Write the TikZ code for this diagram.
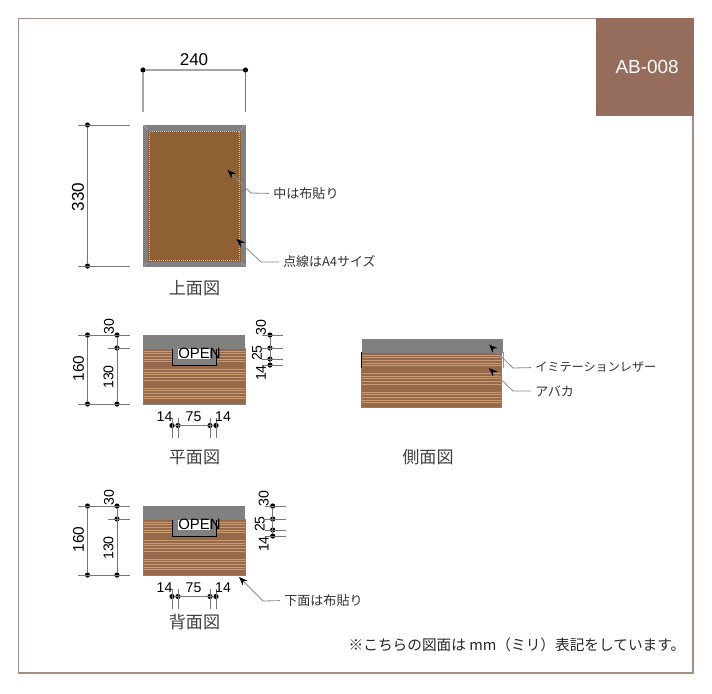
\documentclass[tikz,border=0pt]{standalone}
\usepackage{fontspec}
\setmainfont{Liberation Sans}
\newfontfamily\jp{Noto Sans CJK JP}
\usetikzlibrary{arrows.meta}
\definecolor{framec}{HTML}{A88E82}
\definecolor{tagc}{HTML}{966C5C}
\definecolor{clothc}{HTML}{8F6033}
\definecolor{leatherc}{HTML}{808080}
\definecolor{woodc}{HTML}{96694A}
\definecolor{woodl}{HTML}{CB9A70}
\definecolor{dimc}{HTML}{777777}
\definecolor{leadc}{HTML}{8A8A8A}
\tikzset{
  x=0.75pt,y=-0.75pt,
  dimline/.style={draw=dimc,line width=0.6pt},
  dimsoft/.style={draw=black!35,line width=1pt},
  dimdot/.style={circle,fill=black,inner sep=0pt,minimum size=3.9pt},
  dimtext/.style={inner sep=0pt,font=\fontsize{10.6pt}{10.6pt}\selectfont},
  dimmid/.style={inner sep=0pt,font=\fontsize{11.6pt}{11.6pt}\selectfont},
  dimbig/.style={inner sep=0pt,font=\fontsize{12.8pt}{12.8pt}\selectfont},
  lead/.style={draw=leadc,line width=0.6pt,shorten >=3pt},
  leadarrow/.style={{Stealth[length=6.5pt,width=5pt,black]}-,lead},
  calltext/.style={inner sep=0pt,anchor=west,text=black!80,font=\jp\fontsize{9.8pt}{9.8pt}\selectfont},
  viewtitle/.style={inner sep=0pt,text=black!75,font=\jp\light\fontsize{12.8pt}{12.8pt}\selectfont},
}
\newcommand{\light}{}
\newcommand{\woodstripes}[4]{% x1, y1, x2, y2
  \fill[woodc] (#1,#2) rectangle (#3,#4);
  \begin{scope}
    \clip (#1,#2) rectangle (#3,#4);
    \foreach \k in {0,1,...,4}{
      \foreach \d in {3,5.7,8.4,11.1,13.8}{
        \draw[woodl,line width=0.7pt] (#1,#2+\k*18.5+\d) -- (#3,#2+\k*18.5+\d);
      }
    }
  \end{scope}
  \draw[black!50,line width=0.4pt] (#1,#2) -- (#1,#4) -- (#3,#4) -- (#3,#2);
}
\newcommand{\frontview}[3]{% prefix, top y, right dim x
  \woodstripes{143}{#2+13}{245}{#2+69.5}
  \fill[leatherc] (143,#2) rectangle (245,#2+13.5);
  \fill[leatherc] (172.5,#2+13) rectangle (216,#2+30);
  \draw[black,line width=0.6pt] (172.5,#2+13.5) -- (172.5,#2+30) -- (216,#2+30) -- (216,#2+13.5);
  \fill[white] (178,#2+13.5) rectangle (210,#2+24);
  \node[inner sep=0pt,font=\fontsize{11.2pt}{11.2pt}\selectfont] (#1open) at (199.5,#2+18) {OPEN};
  % left dimensions
  \node[dimdot] (#1la) at (87.5,#2) {};
  \node[dimdot] (#1lb) at (87.5,#2+69) {};
  \node[dimdot] (#1ma) at (117,#2) {};
  \node[dimdot] (#1mb) at (117,#2+13) {};
  \node[dimdot] (#1mc) at (117,#2+69) {};
  \coordinate (#1e1) at (78,#2); \coordinate (#1e2) at (130,#2);
  \coordinate (#1e3) at (108,#2+13); \coordinate (#1e4) at (130,#2+13);
  \coordinate (#1e5) at (78,#2+69); \coordinate (#1e6) at (130,#2+69);
  \draw[dimline] (#1e1) -- (#1e2) (#1e3) -- (#1e4) (#1e5) -- (#1e6);
  \draw[dimline] (#1la) -- (#1lb);
  \draw[dimline] (#1ma) -- (#1mc);
  \node[dimmid,rotate=90] (#1t160) at (78.5,#2+33.5) {160};
  \node[dimtext,rotate=90] (#1t30l) at (109,#2-8.5) {30};
  \node[dimtext,rotate=90] (#1t130) at (108.5,#2+42) {130};
  % right dimensions
  \node[dimdot] (#1ra) at (#3,#2) {};
  \node[dimdot] (#1rb) at (#3,#2+13) {};
  \node[dimdot] (#1rc) at (#3,#2+24) {};
  \node[dimdot] (#1rd) at (#3,#2+30) {};
  \draw[dimline] (#1ra) -- (#1rd);
  \coordinate (#1f1) at (#3-8,#2); \coordinate (#1f2) at (#3+13,#2);
  \coordinate (#1f3) at (#3-8,#2+13); \coordinate (#1f4) at (#3+13,#2+13);
  \coordinate (#1f5) at (#3-8,#2+24); \coordinate (#1f6) at (#3+13,#2+24);
  \coordinate (#1f7) at (#3-8,#2+30); \coordinate (#1f8) at (#3+13,#2+30);
  \draw[dimline] (#1f1) -- (#1f2) (#1f3) -- (#1f4) (#1f5) -- (#1f6) (#1f7) -- (#1f8);
  \node[dimtext,rotate=90] (#1t30r) at (#3-9,#2-7.5) {30};
  \node[dimtext,rotate=90] (#1t25) at (#3-13,#2+18) {25};
  \node[dimtext,rotate=90] (#1t14r) at (#3-9,#2+38) {14};
  % bottom dimensions
  \node[dimdot] (#1ba) at (172,#2+90.5) {};
  \node[dimdot] (#1bb) at (178,#2+90.5) {};
  \node[dimdot] (#1bc) at (210,#2+90.5) {};
  \node[dimdot] (#1bd) at (216,#2+90.5) {};
  \draw[dimline] (#1ba) -- (#1bd);
  \foreach \xx/\nn in {172/g1,178/g2,210/g3,216/g4}{
    \coordinate (#1\nn a) at (\xx,#2+83);
    \coordinate (#1\nn b) at (\xx,#2+103);
    \draw[dimline] (#1\nn a) -- (#1\nn b);
  }
  \node[dimtext] (#1b14a) at (164.5,#2+82) {14};
  \node[dimtext] (#1b75) at (193.5,#2+82) {75};
  \node[dimtext] (#1b14b) at (223,#2+82) {14};
}
\begin{document}
\begin{tikzpicture}
\useasboundingbox (0,0) rectangle (712,693);
\fill[white] (0,0) rectangle (712,693);
% frame and tag
\draw[framec,line width=1pt] (18.5,18.5) rectangle (693,673);
\node[fill=tagc,draw=none,minimum width=73.5pt,inner sep=0pt,anchor=north east,
      minimum height=73.5pt,text=white,font=\fontsize{14.2pt}{14.2pt}\selectfont] (tag) at (694,18) {\hspace{3.5pt}AB-008};

% top view
\fill[leatherc] (143,125) rectangle (245,266.5);
\draw[black!50,line width=0.5pt] (143,125) rectangle (245,266.5);
\draw[white!70!black,line width=0.3pt] (143,125) -- (148,130) (245,125) -- (240.5,130) (143,266.5) -- (148,262) (245,266.5) -- (240.5,262);
\fill[clothc] (147.5,130) rectangle (241,262);
\draw[black!50,line width=0.4pt] (147.5,130) rectangle (241,262);
\draw[woodl!75!white,line width=0.5pt,dash pattern=on 0.75pt off 0.75pt] (149.5,131.5) rectangle (239.5,260);
\node[dimdot] (wa) at (143,70) {};
\node[dimdot] (wb) at (245.5,70) {};
\coordinate (wa2) at (143,112); \coordinate (wb2) at (245.5,112);
\draw[dimsoft] (wa) -- (wb);
\draw[dimsoft] (wa) -- (wa2);
\draw[dimline] (wb) -- (wb2);
\node[dimbig] (t240) at (194,60) {240};
\node[dimdot] (ha) at (87.5,125) {};
\node[dimdot] (hb) at (87.5,266) {};
\coordinate (he1) at (78,125); \coordinate (he2) at (130,125);
\coordinate (he3) at (78,266); \coordinate (he4) at (130,266);
\draw[dimline] (he1) -- (he2) (he3) -- (he4);
\draw[dimline] (ha) -- (hb);
\node[dimbig,rotate=90] (t330) at (78,197) {330};
\coordinate (a1) at (227.5,170); \coordinate (a1k) at (251,193);
\node[calltext] (l1) at (273,193.5) {中は布貼り};
\draw[leadarrow] (a1) -- (a1k) -- (l1.west);
\coordinate (a2) at (236.5,239); \coordinate (a2k) at (261,262);
\node[calltext,font=\jp\fontsize{9.7pt}{9.7pt}\selectfont] (l2) at (283,262) {点線はA4サイズ};
\draw[leadarrow] (a2) -- (a2k) -- (l2.west);
\node[viewtitle] (v1) at (194.5,288) {上面図};

% plan view
\frontview{p}{335}{270}
\node[viewtitle] (v2) at (194.5,457) {平面図};

% side view
\woodstripes{361.5}{352}{501.5}{407.5}
\fill[leatherc] (361.5,339) rectangle (503,352.5);
\draw[black,line width=0.6pt] (361.5,352) -- (361.5,368);
\draw[black!40,line width=0.4pt] (503,352) -- (503,368);
\coordinate (a3) at (489,344.5); \coordinate (a3k) at (513,368);
\node[calltext,font=\jp\fontsize{9.1pt}{9.1pt}\selectfont] (l3) at (535,367.5) {イミテーションレザー};
\draw[leadarrow] (a3) -- (a3k) -- (l3.west);
\coordinate (a4) at (489,368); \coordinate (a4k) at (513,391);
\node[calltext] (l4) at (535,391) {アバカ};
\draw[leadarrow] (a4) -- (a4k) -- (l4.west);
\node[viewtitle] (v3) at (428,457) {側面図};

% back view
\frontview{q}{506}{272.7}
\coordinate (a5) at (239,577); \coordinate (a5k) at (263,601);
\node[calltext] (l5) at (284,600.5) {下面は布貼り};
\draw[leadarrow] (a5) -- (a5k) -- (l5.west);
\node[viewtitle] (v4) at (194.5,622) {背面図};

\node[inner sep=0pt,anchor=east,text=black!85,font=\jp\fontsize{11pt}{11pt}\selectfont] (note) at (685.5,645) {※こちらの図面は mm（ミリ）表記をしています。};
\end{tikzpicture}
\end{document}
